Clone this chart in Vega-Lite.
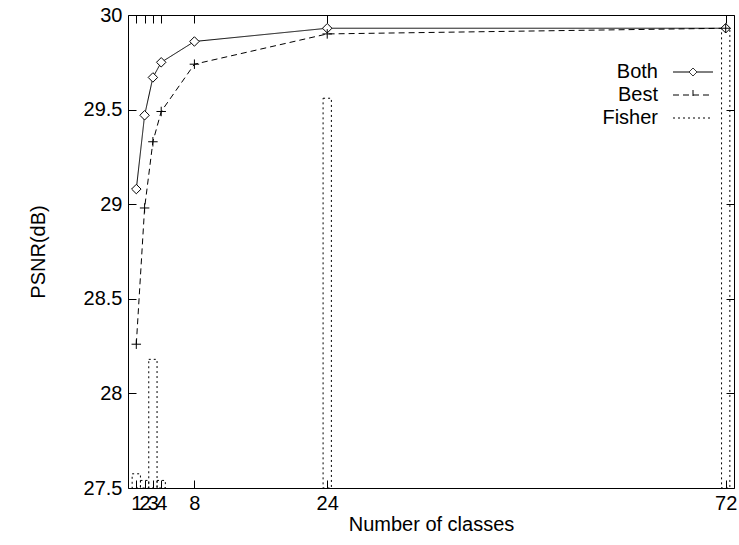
{
  "$schema": "https://vega.github.io/schema/vega-lite/v6.json",
  "width": 606,
  "height": 473,
  "autosize": {"type": "none"},
  "padding": {"left": 128, "top": 15, "right": 5, "bottom": 57},
  "background": "white",
  "config": {
    "font": "Liberation Sans",
    "view": {"stroke": "black", "strokeWidth": 1},
    "axis": {
      "labelFont": "Liberation Sans",
      "labelFontSize": 20,
      "titleFont": "Liberation Sans",
      "titleFontSize": 20,
      "titleFontWeight": "normal",
      "labelColor": "black",
      "titleColor": "black",
      "tickColor": "black",
      "tickWidth": 1,
      "domain": false,
      "grid": false,
      "tickSize": -8,
      "labelOverlap": false,
      "labelBound": false,
      "labelFlush": false
    }
  },
  "datasets": {
    "psnr": [
      {"series": "Both", "classes": 1, "psnr": 29.08},
      {"series": "Both", "classes": 2, "psnr": 29.47},
      {"series": "Both", "classes": 3, "psnr": 29.67},
      {"series": "Both", "classes": 4, "psnr": 29.75},
      {"series": "Both", "classes": 8, "psnr": 29.86},
      {"series": "Both", "classes": 24, "psnr": 29.93},
      {"series": "Both", "classes": 72, "psnr": 29.93},
      {"series": "Best", "classes": 1, "psnr": 28.26},
      {"series": "Best", "classes": 2, "psnr": 28.98},
      {"series": "Best", "classes": 3, "psnr": 29.33},
      {"series": "Best", "classes": 4, "psnr": 29.49},
      {"series": "Best", "classes": 8, "psnr": 29.74},
      {"series": "Best", "classes": 24, "psnr": 29.9},
      {"series": "Best", "classes": 72, "psnr": 29.93},
      {"series": "Fisher", "classes": 1, "psnr": 27.575},
      {"series": "Fisher", "classes": 2, "psnr": 27.54},
      {"series": "Fisher", "classes": 3, "psnr": 28.18},
      {"series": "Fisher", "classes": 4, "psnr": 27.54},
      {"series": "Fisher", "classes": 24, "psnr": 29.56},
      {"series": "Fisher", "classes": 72, "psnr": 29.93}
    ]
  },
  "data": {"name": "psnr"},
  "layer": [
    {
      "transform": [{"filter": "datum.series === 'Fisher'"}],
      "mark": {"type": "bar", "width": 8.3, "fill": "transparent", "stroke": "black", "strokeWidth": 1, "strokeDash": [2, 3], "clip": true},
      "encoding": {
        "x": {
          "field": "classes", "type": "quantitative",
          "scale": {"domain": [0, 73], "nice": false, "zero": false, "padding": 0},
          "axis": {"orient": "bottom", "values": [1, 2, 3, 4, 8, 24, 72], "format": "d", "labelPadding": 13, "title": "Number of classes", "titleY": 42, "titleBaseline": "alphabetic"}
        },
        "y": {
          "field": "psnr", "type": "quantitative",
          "scale": {"domain": [27.5, 30], "nice": false, "zero": false},
          "axis": {"orient": "left", "values": [27.5, 28, 28.5, 29, 29.5, 30], "format": "~g", "labelPadding": 14, "title": "PSNR(dB)", "titleX": -90, "titleBaseline": "middle"}
        },
        "y2": {"datum": 27.5}
      }
    },
    {
      "transform": [{"filter": "datum.series !== 'Fisher'"}],
      "mark": {"type": "line", "color": "black", "strokeWidth": 1},
      "encoding": {
        "x": {"field": "classes", "type": "quantitative", "axis": null},
        "y": {"field": "psnr", "type": "quantitative", "axis": null},
        "strokeDash": {
          "field": "series", "type": "nominal",
          "scale": {"domain": ["Both", "Best", "Fisher"], "range": [[1, 0], [6, 4], [2, 3]]},
          "legend": {
            "title": null,
            "orient": "none",
            "legendX": 555,
            "legendY": 47,
            "padding": 0,
            "symbolSize": 100,
            "labelFont": "Liberation Sans",
            "labelFontSize": 20,
            "labelColor": "black",
            "labelAlign": "right",
            "labelOffset": -45,
            "rowPadding": 3,
            "symbolStrokeColor": "black",
            "symbolStrokeWidth": 1,
            "encode": {
              "symbols": {
                "update": {
                  "shape": {"signal": "datum.value === 'Both' ? 'M-4,0H-0.8M0.8,0H4M-0.8,0L0,-0.8L0.8,0L0,0.8Z' : datum.value === 'Best' ? 'M-4,0H4M0,-1V1' : 'M-4,0H4'"},
                  "fill": {"value": "transparent"},
                  "stroke": {"value": "black"}
                }
              }
            }
          }
        }
      }
    },
    {
      "transform": [{"filter": "datum.series !== 'Fisher'"}],
      "mark": {"type": "point", "filled": true, "fill": "white", "stroke": "black", "strokeWidth": 1, "size": 90, "opacity": 1},
      "encoding": {
        "x": {"field": "classes", "type": "quantitative", "axis": {"orient": "top", "values": [1, 2, 3, 4, 8, 24, 72], "labels": false, "title": null}},
        "y": {"field": "psnr", "type": "quantitative", "axis": {"orient": "right", "values": [27.5, 28, 28.5, 29, 29.5, 30], "labels": false, "title": null}},
        "shape": {
          "field": "series", "type": "nominal",
          "scale": {"domain": ["Both", "Best"], "range": ["diamond", "M-1,0H1M0,-1V1"]},
          "legend": null
        }
      }
    }
  ],
  "resolve": {"axis": {"x": "independent", "y": "independent"}}
}
